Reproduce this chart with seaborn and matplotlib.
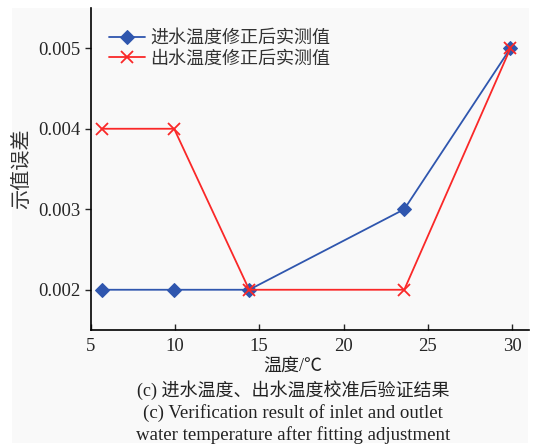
import numpy as np
import pandas as pd
import matplotlib
matplotlib.use("Agg")
import matplotlib.pyplot as plt
from matplotlib.patches import Rectangle
import seaborn as sns

# data
inlet_temp = [5.65, 9.95, 14.4, 23.6, 29.9]
inlet_err = [0.002, 0.002, 0.002, 0.003, 0.005]
outlet_temp = [5.65, 9.95, 14.4, 23.6, 29.9]
outlet_err = [0.004, 0.004, 0.002, 0.002, 0.005]
series_names = ["进水温度修正后实测值", "出水温度修正后实测值"]
x_ticks = [5, 10, 15, 20, 25, 30]
y_ticks = [0.002, 0.003, 0.004, 0.005]

BLUE = "#2f56ae"
RED = "#fa2828"
BG = "#f9f9f9"

sns.set_style("ticks")
plt.rcParams["font.family"] = ["Liberation Serif", "Noto Sans CJK SC", "DejaVu Sans"]
plt.rcParams["axes.unicode_minus"] = False

fig = plt.figure(figsize=(5.41, 4.45), dpi=100, facecolor="white")
fig.patches.append(Rectangle((12 / 541, 1 - 443 / 445), 516 / 541, 435 / 445,
                             transform=fig.transFigure, facecolor=BG,
                             edgecolor="none", zorder=-10))
ax = fig.add_axes([90.7 / 541, 1 - 330 / 445, (529 - 90.7) / 541, (330 - 8) / 445])
ax.set_facecolor(BG)

sns.lineplot(x=inlet_temp, y=inlet_err, color=BLUE, marker="D", markersize=7,
             markeredgecolor=BLUE, markerfacecolor=BLUE, linewidth=1.3,
             label=series_names[0], ax=ax)
sns.lineplot(x=outlet_temp, y=outlet_err, color=RED, marker="x", markersize=9,
             markeredgecolor=RED, markeredgewidth=1.3, linewidth=1.3,
             label=series_names[1], ax=ax)

ax.set_xlim(5, 31)
ax.set_ylim(0.0015, 0.0055)
ax.set_xticks(x_ticks)
ax.set_yticks(y_ticks)
ax.set_yticklabels([f"{v:.3f}" for v in y_ticks])
ax.tick_params(axis="x", direction="in", length=4, width=1, labelsize=13.5, pad=6)
ax.tick_params(axis="y", direction="out", length=4, width=1, labelsize=13.5)
sns.despine(ax=ax)
for s in ["left", "bottom"]:
    ax.spines[s].set_linewidth(1.2)
    ax.spines[s].set_color("black")

ax.set_xlabel("")
ax.set_ylabel("示值误差", fontsize=14.5, color="#333333", labelpad=4)

leg = ax.legend(loc="upper left", frameon=False, fontsize=13,
                bbox_to_anchor=(0.017, 0.965), handlelength=2.0,
                handletextpad=0.3, labelspacing=0.2, borderaxespad=0.2)
for t in leg.get_texts():
    t.set_color("#333333")

cx = 293 / 541
fig.text(cx, 1 - 366 / 445, "温度/℃", ha="center", va="center", fontsize=13, color="#222222")
fig.text(cx, 1 - 390 / 445, "(c) 进水温度、出水温度校准后验证结果", ha="center", va="center",
         fontsize=13, color="#222222")
fig.text(cx, 1 - 413 / 445, "(c) Verification result of inlet and outlet", ha="center",
         va="center", fontsize=13.6, color="#222222")
fig.text(cx, 1 - 435 / 445, "water temperature after fitting adjustment", ha="center",
         va="center", fontsize=13.6, color="#222222")

fig.savefig("out.png", dpi=100, facecolor="white")
